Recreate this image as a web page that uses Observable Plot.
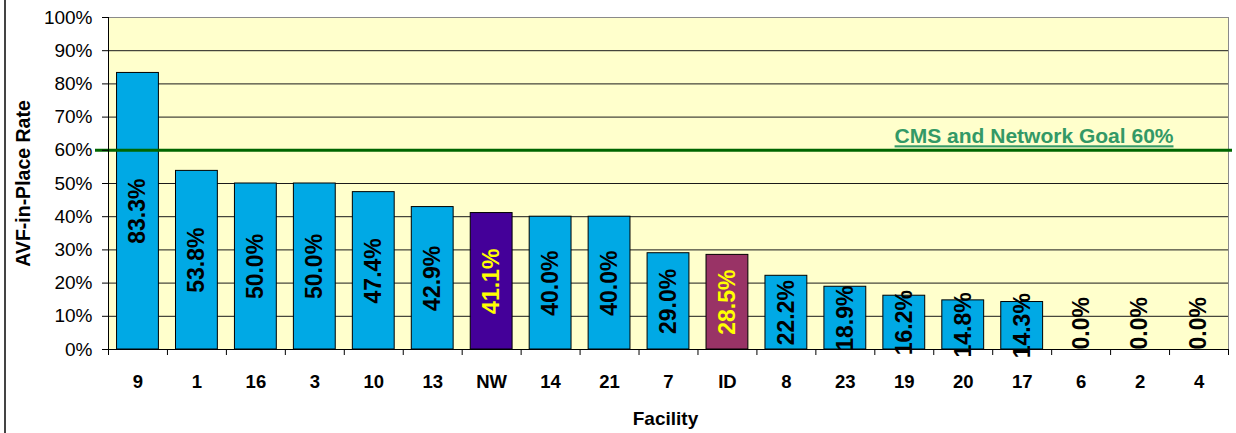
<!DOCTYPE html>
<html><head><meta charset="utf-8">
<script src="https://cdn.jsdelivr.net/npm/d3@7"></script>
<script src="https://cdn.jsdelivr.net/npm/@observablehq/plot@0.6"></script>
<style>
html,body{margin:0;padding:0;background:#fff;}
#chart{position:relative;width:1236px;height:433px;overflow:hidden;}
#chart::before{content:"";position:absolute;left:4px;top:0;width:2px;height:433px;background:#444;}
svg{display:block;}
</style></head><body><div id="chart"></div>
<script>
const facilities = ["9","1","16","3","10","13","NW","14","21","7","ID","8","23","19","20","17","6","2","4"];
const rates = [83.3,53.8,50.0,50.0,47.4,42.9,41.1,40.0,40.0,29.0,28.5,22.2,18.9,16.2,14.8,14.3,0.0,0.0,0.0];
const highlight = {NW: "#440099", ID: "#993366"};
const baseColor = "#00A9E5";
const goalValue = 60;
const goalLabel = "CMS and Network Goal 60%";
const yTicks = [0,10,20,30,40,50,60,70,80,90,100];
const xTitle = "Facility";
const yTitle = "AVF-in-Place Rate";

const data = facilities.map((f,i)=>({facility:f, rate:rates[i]}));
const W=1236,H=433, mL=108, mR=8, mT=17, mB=84;
const step = (W-mL-mR)/facilities.length;
const barInset = step * 0.145;
const font = "'Liberation Sans', Arial, Helvetica, sans-serif";
const fmt = d => d.rate.toFixed(1) + "%";
const labelFill = d => highlight[d.facility] ? "#FFFF00" : "#000";

const plot = Plot.plot({
  width: W, height: H, marginLeft: mL, marginRight: mR, marginTop: mT, marginBottom: mB,
  style: {fontFamily: font, fontSize: "18px", background: "transparent", color: "#000", overflow: "visible"},
  x: {domain: facilities, padding: 0, round: false, axis: null},
  y: {domain: [0,100], axis: null},
  color: {type: "identity"},
  marks: [
    Plot.frame({fill: "#FFFFCC", stroke: "#8a8a8a"}),
    Plot.ruleY(yTicks.filter(t => t > 0 && t < 100), {stroke: "#1a1a1a", strokeWidth: 1}),
    Plot.barY(data, {x: "facility", y: "rate", insetLeft: barInset, insetRight: barInset, fill: d => highlight[d.facility] || baseColor, stroke: "#000", strokeWidth: 1}),
    Plot.ruleY([goalValue], {stroke: "#006600", strokeWidth: 3, insetLeft: -13, insetRight: -4}),
    Plot.text([goalLabel], {y: () => goalValue, text: d => d, frameAnchor: "right", textAnchor: "end", lineAnchor: "bottom", dx: -55, dy: -7, fill: "#339966", fontWeight: "bold", fontSize: 21}),
    Plot.text(data.filter(d => d.rate > 0), {x: "facility", y: d => d.rate/2, text: fmt, rotate: -90, fill: labelFill, fontSize: 23, fontWeight: "bold"}),
    Plot.text(data.filter(d => d.rate === 0), {x: "facility", y: "rate", text: fmt, rotate: -90, textAnchor: "start", fill: labelFill, fontSize: 23, fontWeight: "bold"}),
    Plot.frame({anchor: "left", stroke: "#000"}),
    Plot.frame({anchor: "bottom", stroke: "#000"}),
    Plot.axisY({ticks: yTicks, tickSize: 6, tickPadding: 10, tickFormat: d => d + "%", fontSize: 19, label: null}),
    Plot.axisX({tickSize: 0, tickPadding: 25, fontWeight: "bold", fontSize: 18.5, label: null}),
    Plot.ruleX(facilities, {x: d => d, dx: -step/2, insetTop: H-mT-mB, insetBottom: -6, stroke: "#000"}),
    Plot.ruleX(facilities.slice(-1), {x: d => d, dx: step/2, insetTop: H-mT-mB, insetBottom: -6, stroke: "#000"}),
    Plot.text([yTitle], {text: d => d, frameAnchor: "left", textAnchor: "middle", rotate: -90, dx: -85, fontWeight: "bold", fontSize: 19.5}),
    Plot.text([xTitle], {text: d => d, frameAnchor: "bottom", lineAnchor: "bottom", dx: -3, dy: 75, fontWeight: "bold", fontSize: 19})
  ]
});
d3.select(plot).selectAll("text").filter(function(){ return this.textContent === goalLabel; })
  .style("text-decoration", "underline");
document.getElementById("chart").appendChild(plot);
</script></body></html>
